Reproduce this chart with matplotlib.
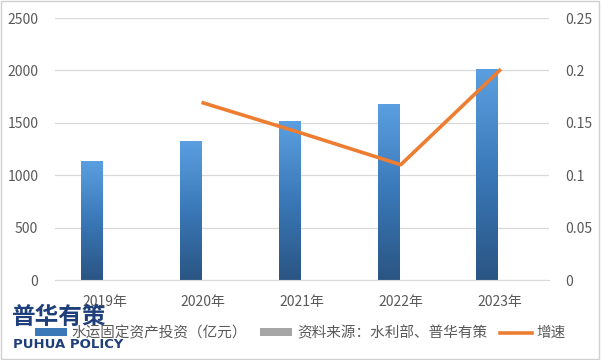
import numpy as np
import matplotlib.pyplot as plt
from matplotlib.colors import LinearSegmentedColormap
from matplotlib.patches import Patch, Rectangle
from matplotlib.lines import Line2D

plt.rcParams['font.family'] = ['Noto Sans CJK SC', 'DejaVu Sans']

# data
years = ["2019年", "2020年", "2021年", "2022年", "2023年"]
investment = [1135, 1326, 1508, 1670, 2013]   # 亿元
growth_years = ["2020年", "2021年", "2022年", "2023年"]
growth = [0.169, 0.140, 0.110, 0.200]

label_bar = "水运固定资产投资（亿元）"
label_src = "资料来源：水利部、普华有策"
label_line = "增速"

tick_color = "#595959"
grid_color = "#d9d9d9"
line_color = "#ed7d31"

fig = plt.figure(figsize=(6.01, 3.6), dpi=100)
ax = fig.add_axes([55 / 601, 1 - 280 / 360, 494 / 601, 262 / 360])

x = np.arange(len(years))
bar_w = 0.22
bar_shift = -0.125   # bars sit left of the category, as in a two-series cluster
cmap = LinearSegmentedColormap.from_list("bar", ["#2a5583", "#3a78b8", "#5b9fe0"])
grad = np.linspace(0, 1, 256).reshape(-1, 1)
for xi, v in zip(x + bar_shift, investment):
    ax.imshow(grad, extent=[xi - bar_w / 2, xi + bar_w / 2, 0, v], origin="lower",
              aspect="auto", cmap=cmap, zorder=2)

ax.set_xlim(-0.5, len(years) - 0.5)
ax.set_ylim(0, 2500)
ax.set_yticks(np.arange(0, 2501, 500))
ax.set_xticks(x)
ax.set_xticklabels(years)
ax.yaxis.grid(True, color=grid_color, linewidth=0.9, zorder=0)
ax.set_axisbelow(True)
for s in ["top", "right", "left"]:
    ax.spines[s].set_visible(False)
ax.spines["bottom"].set_color(grid_color)
ax.tick_params(axis="both", length=0, colors=tick_color, labelsize=10)
ax.tick_params(axis="x", pad=11)
ax.tick_params(axis="y", pad=12)

ax2 = ax.twinx()
gx = [years.index(y) for y in growth_years]
ax2.plot(gx, growth, color=line_color, linewidth=2.6, zorder=3)
ax2.set_ylim(0, 0.25)
ax2.set_yticks([0, 0.05, 0.1, 0.15, 0.2, 0.25])
ax2.set_yticklabels(["0", "0.05", "0.1", "0.15", "0.2", "0.25"])
for s in ax2.spines.values():
    s.set_visible(False)
ax2.tick_params(axis="y", length=0, colors=tick_color, labelsize=10, pad=12)

handles = [
    Patch(facecolor="#3a78b8", edgecolor="none"),
    Patch(facecolor="#a6a6a6", edgecolor="none"),
    Line2D([0], [0], color=line_color, linewidth=2.6),
]
fig.legend(handles, [label_bar, label_src, label_line], loc="center",
           bbox_to_anchor=(0.5, 1 - 333 / 360), ncol=3, frameon=False,
           fontsize=10.5, labelcolor=tick_color, handlelength=2.2, handleheight=0.45,
           handletextpad=0.3, columnspacing=0.9)

# watermark logo
fig.text(12 / 601, 1 - 317 / 360, "普华有策", fontsize=17, fontweight="bold",
         color="#1f3f7a", va="center", ha="left")
fig.text(13 / 601, 1 - 344 / 360, "PUHUA POLICY", fontsize=9.5, fontweight="bold",
         color="#1f3f7a", va="center", ha="left", family="DejaVu Sans")

fig.patches.append(Rectangle((0.002, 0.003), 0.995, 0.993, transform=fig.transFigure,
                             fill=False, edgecolor="#d0d0d0", linewidth=1))

fig.savefig("out.png", dpi=100)
